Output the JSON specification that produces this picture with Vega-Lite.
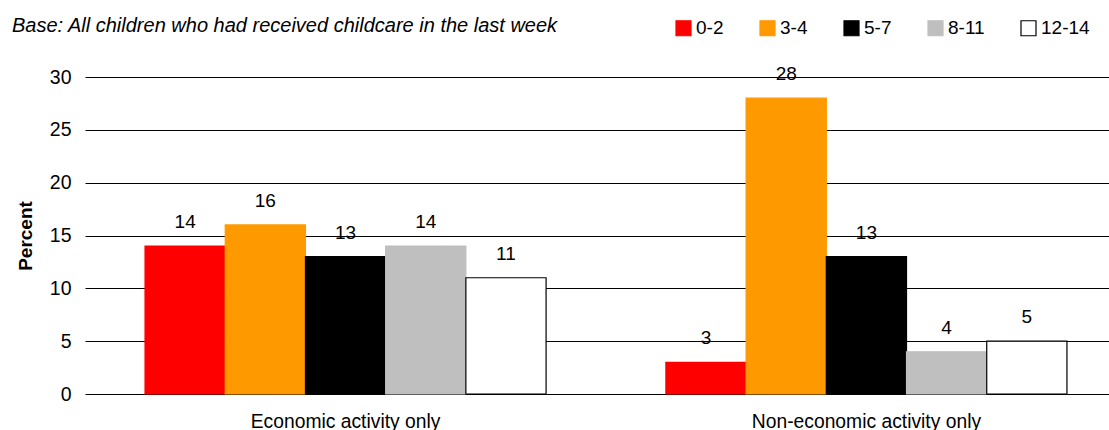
{
  "$schema": "https://vega.github.io/schema/vega-lite/v6.json",
  "width": 1024,
  "height": 317,
  "autosize": {"type": "none"},
  "padding": {"left": 85, "top": 77, "right": 0, "bottom": 36},
  "background": "white",
  "config": {
    "font": "Liberation Sans",
    "view": {"stroke": null},
    "axis": {"labelFont": "Liberation Sans", "labelColor": "#000", "titleColor": "#000"}
  },
  "title": {
    "text": "Base: All children who had received childcare in the last week",
    "anchor": "start",
    "frame": "group",
    "font": "Liberation Sans",
    "fontStyle": "italic",
    "fontWeight": "normal",
    "fontSize": 20,
    "color": "#000",
    "dx": -73,
    "dy": 17,
    "orient": "top",
    "offset": 0
  },
  "data": {
    "values": [
      {"activity": "Economic activity only", "age": "0-2", "pct": 14},
      {"activity": "Economic activity only", "age": "3-4", "pct": 16},
      {"activity": "Economic activity only", "age": "5-7", "pct": 13},
      {"activity": "Economic activity only", "age": "8-11", "pct": 14},
      {"activity": "Economic activity only", "age": "12-14", "pct": 11},
      {"activity": "Non-economic activity only", "age": "0-2", "pct": 3},
      {"activity": "Non-economic activity only", "age": "3-4", "pct": 28},
      {"activity": "Non-economic activity only", "age": "5-7", "pct": 13},
      {"activity": "Non-economic activity only", "age": "8-11", "pct": 4},
      {"activity": "Non-economic activity only", "age": "12-14", "pct": 5}
    ]
  },
  "encoding": {
    "x": {
      "field": "activity",
      "type": "nominal",
      "scale": {"paddingInner": 0.23, "paddingOuter": 0.098, "align": 0.588},
      "axis": {
        "title": null,
        "labelAngle": 0,
        "labelFontSize": 19.3,
        "labelPadding": 18,
        "labelLimit": 0,
        "ticks": false,
        "domain": false
      }
    },
    "xOffset": {
      "field": "age",
      "type": "nominal",
      "sort": ["0-2", "3-4", "5-7", "8-11", "12-14"],
      "scale": {"paddingInner": 0, "paddingOuter": 0}
    },
    "y": {
      "field": "pct",
      "type": "quantitative",
      "scale": {"domain": [0, 30]},
      "axis": {
        "title": "Percent",
        "titleFontSize": 19,
        "titleFontWeight": "bold",
        "titleAngle": -90,
        "titleX": -60,
        "titleY": 158.5,
        "titleAlign": "center",
        "titleBaseline": "middle",
        "values": [0, 5, 10, 15, 20, 25, 30],
        "labelFontSize": 19.5,
        "labelPadding": 14,
        "ticks": false,
        "domain": false,
        "grid": true,
        "gridColor": "#000",
        "gridWidth": 1,
        "gridOpacity": 1
      }
    }
  },
  "layer": [
    {
      "mark": {"type": "bar", "strokeWidth": 1.2},
      "encoding": {
        "fill": {
          "field": "age",
          "type": "nominal",
          "sort": ["0-2", "3-4", "5-7", "8-11", "12-14"],
          "scale": {
            "domain": ["0-2", "3-4", "5-7", "8-11", "12-14"],
            "range": ["#FF0000", "#FF9900", "#000000", "#BFBFBF", "#FFFFFF"]
          },
          "legend": {
            "title": null,
            "orient": "none",
            "direction": "horizontal",
            "legendX": 589,
            "legendY": -58.5,
            "padding": 0,
            "symbolType": "square",
            "symbolSize": 225,
            "symbolStrokeWidth": 1.2,
            "labelFontSize": 19,
            "labelFont": "Liberation Sans",
            "labelColor": "#000",
            "labelOffset": 3,
            "columnPadding": 33
          }
        },
        "stroke": {
          "field": "age",
          "type": "nominal",
          "sort": ["0-2", "3-4", "5-7", "8-11", "12-14"],
          "scale": {
            "domain": ["0-2", "3-4", "5-7", "8-11", "12-14"],
            "range": ["#FF0000", "#FF9900", "#000000", "#BFBFBF", "#000000"]
          },
          "legend": {
            "title": null,
            "orient": "none",
            "direction": "horizontal",
            "legendX": 589,
            "legendY": -58.5,
            "padding": 0,
            "symbolType": "square",
            "symbolSize": 225,
            "symbolStrokeWidth": 1.2,
            "labelFontSize": 19,
            "labelFont": "Liberation Sans",
            "labelColor": "#000",
            "labelOffset": 3,
            "columnPadding": 33
          }
        }
      }
    },
    {
      "mark": {"type": "text", "fontSize": 19, "font": "Liberation Sans", "color": "#000", "baseline": "middle", "dy": -24},
      "encoding": {
        "text": {"field": "pct", "type": "quantitative"}
      }
    }
  ]
}
